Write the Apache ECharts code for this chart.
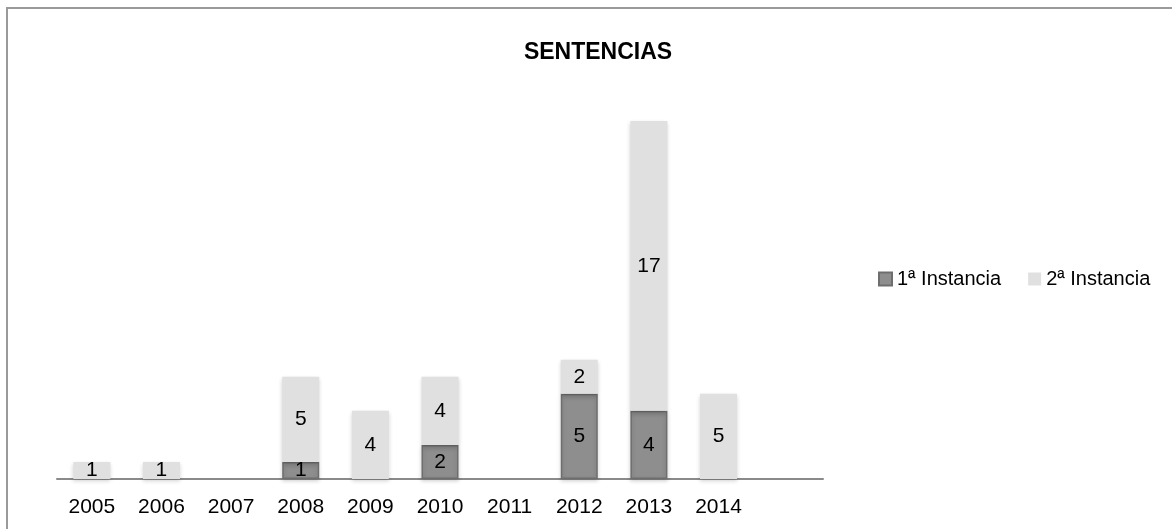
<!DOCTYPE html>
<html>
<head>
<meta charset="utf-8">
<script src="https://cdn.jsdelivr.net/npm/echarts@6/dist/echarts.min.js"></script>
<style>
html,body{margin:0;padding:0;background:#fff;}
#chart{width:1172px;height:529px;}
</style>
</head>
<body>
<div id="chart"></div>
<script>
const years = ['2005','2006','2007','2008','2009','2010','2011','2012','2013','2014',''];
const primeraInstancia = [null, null, null, 1, null, 2, null, 5, 4, null, null];
const segundaInstancia = [1, 1, null, 5, 4, 4, null, 2, 17, 5, null];
const seriesNames = ['1ª Instancia', '2ª Instancia'];
const titleText = 'SENTENCIAS';

const chart = echarts.init(document.getElementById('chart'));
const font = 'Liberation Sans, Arial, sans-serif';
const labelCfg = {
  show: true,
  position: 'inside',
  color: '#000',
  fontSize: 21,
  fontFamily: font
};
chart.setOption({
  backgroundColor: '#fff',
  animation: false,
  title: {
    text: titleText,
    left: 593,
    textAlign: 'center',
    top: 36,
    textStyle: { fontFamily: font, fontWeight: 'bold', fontSize: 23, color: '#000' }
  },
  legend: {
    left: 873,
    top: 264,
    itemWidth: 13,
    itemHeight: 13,
    itemGap: 27,
    icon: 'rect',
    textStyle: { fontFamily: font, fontSize: 20, color: '#000' },
    data: seriesNames
  },
  graphic: [{
    type: 'rect',
    shape: { x: 7, y: 8, width: 1300, height: 700 },
    style: { fill: 'none', stroke: '#9a9a9a', lineWidth: 2 },
    silent: true
  }],
  grid: { left: 57, right: 349, top: 121, bottom: 50 },
  xAxis: {
    type: 'category',
    data: years,
    axisLine: { show: true, lineStyle: { color: '#8a8a8a', width: 2 } },
    axisTick: { show: false },
    axisLabel: { color: '#000', fontSize: 21, fontFamily: font, margin: 18, interval: 0 },
    splitLine: { show: false }
  },
  yAxis: {
    type: 'value',
    min: 0,
    max: 21,
    show: false,
    splitLine: { show: false }
  },
  series: [
    {
      name: seriesNames[0],
      type: 'bar',
      stack: 'total',
      barWidth: 37,
      data: primeraInstancia,
      itemStyle: {
        color: '#8e8e8e',
        borderColor: '#6e6e6e',
        borderWidth: 1.5,
        shadowBlur: 4,
        shadowColor: 'rgba(0,0,0,0.18)',
        shadowOffsetY: 2
      },
      label: labelCfg
    },
    {
      name: seriesNames[1],
      type: 'bar',
      stack: 'total',
      barWidth: 37,
      data: segundaInstancia,
      itemStyle: {
        color: '#e0e0e0',
        shadowBlur: 4,
        shadowColor: 'rgba(0,0,0,0.18)',
        shadowOffsetY: 2
      },
      label: labelCfg
    }
  ]
});
</script>
</body>
</html>
